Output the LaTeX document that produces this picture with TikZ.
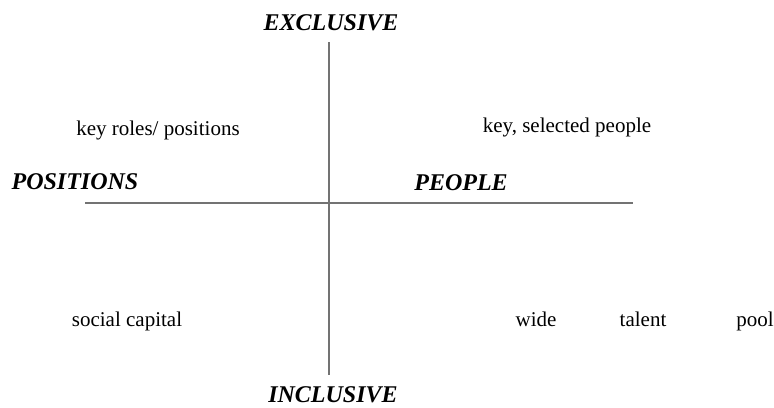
\documentclass[tikz,border=0pt]{standalone}
\usepackage{fontspec}
\setmainfont{Liberation Serif}

\tikzset{
  axis/.style={draw=black!55, line width=0.6pt},
  pole/.style={font=\fontsize{12}{14}\selectfont\bfseries\itshape, inner sep=0pt,
    text height=1.6ex, text depth=0.3ex},
  item/.style={font=\fontsize{10.5}{12}\selectfont, inner sep=0pt,
    text height=1.6ex, text depth=0.4ex}
}

\begin{document}
\begin{tikzpicture}[x=0.5pt, y=-0.5pt]
            \useasboundingbox (0,0) rectangle (774,407);
            % the two axes
            \coordinate (top) at (329,42);
            \coordinate (bottom) at (329,375);
            \coordinate (left) at (85,203);
            \coordinate (right) at (633,203);
            \draw[axis] (top) -- (bottom);
            \draw[axis] (left) -- (right);
            % poles
            \node[pole] (excl) at (331,25) {EXCLUSIVE};
            \node[pole] (incl) at (333,397) {INCLUSIVE};
            \node[pole] (pos) at (75,184) {POSITIONS};
            \node[pole] (ppl) at (461,185) {PEOPLE};
            % quadrants
            \node[item] (roles) at (158,130) {key roles/ positions};
            \node[item] (keyppl) at (567,127) {key, selected people};
            \node[item] (social) at (127,321) {social capital};
            \node[item] (wide) at (536,321) {wide};
            \node[item] (talent) at (643,321) {talent};
            \node[item] (pool) at (755,321) {pool};
        \end{tikzpicture}
\end{document}
